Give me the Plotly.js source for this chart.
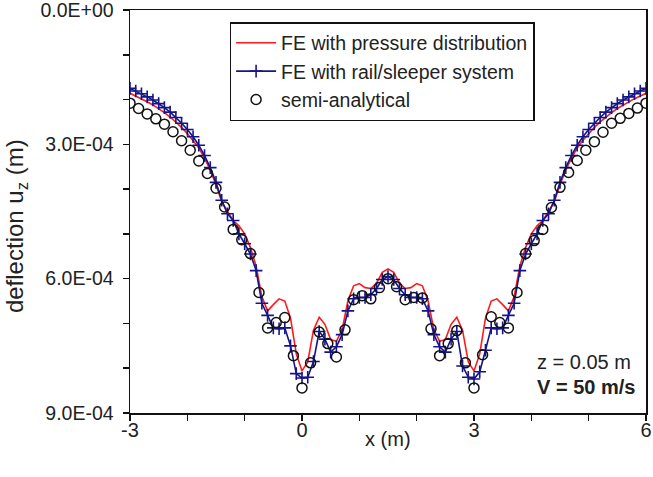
<!DOCTYPE html>
<html>
<head>
<meta charset="utf-8">
<script src="https://cdn.plot.ly/plotly-3.0.1.min.js"></script>
<style>html,body{margin:0;padding:0;background:#fff;}#chart{width:653px;height:477px;}</style>
</head>
<body>
<div id="chart"></div>
<script>
// units: deflection values in 1E-4 m
const UNIT = 1e-4;

const xFE = [-3.0,-2.9,-2.8,-2.7,-2.6,-2.5,-2.4,-2.3,-2.2,-2.1,-2.0,-1.9,-1.8,-1.7,-1.6,-1.5,-1.4,-1.3,-1.2,-1.1,
  -1.0,-0.9,-0.8,-0.7,-0.6,-0.5,-0.4,-0.3,-0.2,-0.1,0.0,0.1,0.2,0.3,0.4,0.5,0.6,0.7,0.8,0.9,
  1.0,1.1,1.2,1.3,1.4,1.5,1.6,1.7,1.8,1.9,2.0,2.1,2.2,2.3,2.4,2.5,2.6,2.7,2.8,2.9,
  3.0,3.1,3.2,3.3,3.4,3.5,3.6,3.7,3.8,3.9,4.0,4.1,4.2,4.3,4.4,4.5,4.6,4.7,4.8,4.9,
  5.0,5.1,5.2,5.3,5.4,5.5,5.6,5.7,5.8,5.9,6.0];

const feePressure = [1.86,1.92,1.98,2.05,2.12,2.20,2.29,2.39,2.50,2.62,2.76,2.91,3.08,3.31,3.57,3.90,4.28,4.50,4.70,4.82,
  5.00,5.30,5.72,6.40,6.72,6.58,6.45,6.50,6.88,7.68,8.06,7.86,7.15,6.86,7.02,7.36,7.40,7.14,6.50,6.16,
  6.11,6.20,6.22,6.10,5.86,5.78,5.86,6.10,6.22,6.20,6.11,6.16,6.50,7.14,7.40,7.36,7.02,6.86,7.15,7.86,
  8.06,7.68,6.88,6.50,6.45,6.58,6.72,6.40,5.72,5.30,5.00,4.82,4.70,4.50,4.28,3.90,3.57,3.31,3.08,2.91,
  2.76,2.62,2.50,2.39,2.29,2.20,2.12,2.05,1.98,1.92,1.86];

const feRailSleeper = [1.75,1.81,1.87,1.94,2.01,2.09,2.18,2.28,2.40,2.53,2.67,2.83,3.02,3.25,3.52,3.85,4.25,4.55,4.70,5.00,
  5.22,5.45,5.82,6.55,6.82,7.10,7.12,7.10,7.50,8.12,8.22,8.20,7.85,7.18,7.35,7.64,7.52,7.25,6.72,6.45,
  6.42,6.42,6.36,6.22,6.02,5.95,6.02,6.22,6.36,6.42,6.42,6.45,6.72,7.25,7.52,7.64,7.35,7.18,7.95,8.20,
  8.24,8.08,7.60,7.10,7.12,7.10,6.82,6.55,5.82,5.45,5.22,5.00,4.70,4.55,4.25,3.85,3.52,3.25,3.02,2.83,
  2.67,2.53,2.40,2.28,2.18,2.09,2.01,1.94,1.87,1.81,1.75];

const xSemi = [-3.00,-2.85,-2.70,-2.55,-2.40,-2.25,-2.10,-1.95,-1.80,-1.65,-1.50,-1.35,-1.20,-1.05,-0.90,-0.75,
  -0.60,-0.45,-0.30,-0.15,0.00,0.15,0.30,0.45,0.60,0.75,0.90,1.05,1.20,1.35,1.50,
  1.65,1.80,1.95,2.10,2.25,2.40,2.55,2.70,2.85,3.00,3.15,3.30,3.45,3.60,3.75,3.90,4.05,4.20,4.35,
  4.50,4.65,4.80,4.95,5.10,5.25,5.40,5.55,5.70,5.85,6.00];

const semiAnalytical = [2.08,2.20,2.32,2.43,2.55,2.72,2.92,3.13,3.37,3.65,3.98,4.40,4.90,5.13,5.44,6.31,
  7.10,6.98,6.87,7.72,8.44,7.88,7.19,7.45,7.75,7.14,6.47,6.38,6.45,6.20,6.00,
  6.18,6.47,6.42,6.43,7.12,7.72,7.45,7.16,7.88,8.44,7.70,6.85,6.98,7.10,6.31,5.44,5.15,4.90,4.41,
  3.96,3.63,3.36,3.13,2.94,2.73,2.53,2.42,2.31,2.19,2.08];

const seriesNames = ["FE with pressure distribution", "FE with rail/sleeper system", "semi-analytical"];
const xTickVals = [-3, 0, 3, 6];
const xTickText = ["-3", "0", "3", "6"];
const yTickVals = [0, 3e-4, 6e-4, 9e-4];
const yTickText = ["0.0E+00", "3.0E-04", "6.0E-04", "9.0E-04"];
const xTitle = "x (m)";
const yTitle = "deflection u<sub>z</sub> (m)";

const toM = arr => arr.map(v => v * UNIT);
const FONT = '"Liberation Sans", Arial, sans-serif';

const traces = [
  {x: xFE, y: toM(feePressure), name: seriesNames[0], type: 'scatter', mode: 'lines',
   line: {color: '#ff1a1a', width: 1.6}},
  {x: xFE, y: toM(feRailSleeper), name: seriesNames[1], type: 'scatter', mode: 'lines+markers',
   line: {color: '#15158a', width: 1.6},
   marker: {symbol: 'cross-thin-open', size: 9, color: '#15158a', line: {color: '#15158a', width: 1.6}}},
  {x: xSemi, y: toM(semiAnalytical), name: seriesNames[2], type: 'scatter', mode: 'markers',
   marker: {symbol: 'circle-open', size: 10, color: '#111', line: {color: '#111', width: 1.5}}}
];

const layout = {
  width: 653, height: 477,
  margin: {l: 130, r: 7, t: 10, b: 64},
  paper_bgcolor: '#fff', plot_bgcolor: '#fff',
  font: {family: FONT, size: 20, color: '#222'},
  showlegend: true,
  legend: {x: 0.193, y: 0.97, xanchor: 'left', yanchor: 'top', bgcolor: '#fff',
    bordercolor: '#111', borderwidth: 1.5, font: {family: FONT, size: 19.5, color: '#222'},
    itemwidth: 40, tracegroupgap: 0},
  xaxis: {
    range: [-3, 6], tickmode: 'array', tickvals: xTickVals, ticktext: xTickText,
    ticks: 'outside', ticklen: 6, tickwidth: 1.5, tickcolor: '#111',
    ticklabeloverflow: 'allow', ticklabelstandoff: -8,
    showline: true, linecolor: '#111', linewidth: 1.5, mirror: true,
    showgrid: false, zeroline: false,
    minor: {tickmode: 'linear', tick0: -3, dtick: 1, ticks: 'outside', ticklen: 6, tickwidth: 1.5, tickcolor: '#111', showgrid: false},
    tickfont: {family: FONT, size: 20, color: '#222'}
  },
  yaxis: {
    range: [9e-4, 0], tickmode: 'array', tickvals: yTickVals, ticktext: yTickText,
    ticks: 'outside', ticklen: 6, tickwidth: 1.5, tickcolor: '#111',
    ticklabeloverflow: 'allow', ticklabelstandoff: 5,
    showline: true, linecolor: '#111', linewidth: 1.5, mirror: true,
    showgrid: false, zeroline: false,
    minor: {tickmode: 'linear', tick0: 0, dtick: 1e-4, ticks: 'outside', ticklen: 6, tickwidth: 1.5, tickcolor: '#111', showgrid: false},
    tickfont: {family: FONT, size: 19.5, color: '#222'}
  },
  annotations: [
    {xref: 'paper', yref: 'paper', x: 0.5, y: -0.064, xanchor: 'center', yanchor: 'middle',
     text: xTitle, showarrow: false, font: {family: FONT, size: 20, color: '#222'}},
    {xref: 'paper', yref: 'paper', x: -0.22, y: 0.465, xanchor: 'center', yanchor: 'middle', textangle: -90,
     text: yTitle, showarrow: false, font: {family: FONT, size: 24, color: '#222'}},
    {xref: 'paper', yref: 'paper', x: 0.785, y: 0.127, xanchor: 'left', yanchor: 'middle',
     text: 'z = 0.05 m', showarrow: false, font: {family: FONT, size: 20, color: '#222'}},
    {xref: 'paper', yref: 'paper', x: 0.785, y: 0.065, xanchor: 'left', yanchor: 'middle',
     text: '<b>V = 50 m/s</b>', showarrow: false, font: {family: FONT, size: 20, color: '#222'}}
  ]
};

Plotly.newPlot('chart', traces, layout, {displayModeBar: false, staticPlot: true});
</script>
</body>
</html>
